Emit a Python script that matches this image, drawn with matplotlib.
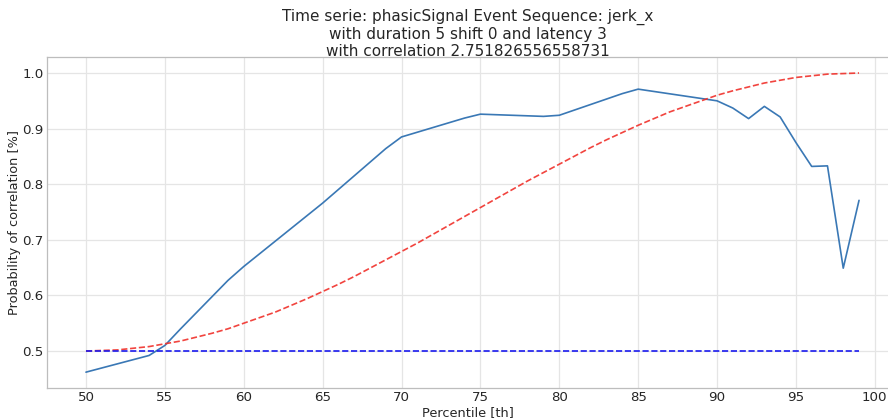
import matplotlib
matplotlib.use("Agg")
import matplotlib.pyplot as plt
import seaborn as sns

# Observed probability of correlation per percentile
percentiles = [50, 54, 55, 56, 57, 58, 59, 60, 65, 69, 70, 74, 75, 79, 80,
               84, 85, 90, 91, 92, 93, 94, 95, 96, 97, 98, 99]
probability = [0.462, 0.492, 0.510, 0.540, 0.569, 0.598, 0.627, 0.652, 0.766,
               0.864, 0.885, 0.919, 0.926, 0.922, 0.924, 0.963, 0.971, 0.950,
               0.937, 0.918, 0.940, 0.921, 0.875, 0.832, 0.833, 0.649, 0.771]

# Reference curve at every percentile from 50 to 99
ref_percentiles = list(range(50, 100))
ref_probability = [0.500, 0.501, 0.502, 0.505, 0.508, 0.513, 0.518, 0.525, 0.532, 0.540,
                   0.550, 0.560, 0.570, 0.582, 0.594, 0.607, 0.620, 0.634, 0.649, 0.664,
                   0.679, 0.694, 0.710, 0.726, 0.742, 0.758, 0.774, 0.790, 0.806, 0.821,
                   0.836, 0.851, 0.866, 0.880, 0.893, 0.906, 0.918, 0.930, 0.940, 0.950,
                   0.960, 0.968, 0.975, 0.982, 0.987, 0.992, 0.995, 0.998, 0.999, 1.000]

# Chance level
chance_x = [50, 99]
chance_y = [0.5, 0.5]

title_lines = ["Time serie: phasicSignal Event Sequence: jerk_x",
               "with duration 5 shift 0 and latency 3",
               "with correlation 2.751826556558731"]

sns.set_style("whitegrid")
plt.rcParams['font.family'] = ['DejaVu Sans']

fig = plt.figure(figsize=(8.88, 4.19), dpi=100)
ax = fig.add_axes([47 / 888, 31 / 419, 842 / 888, 331 / 419])

ax.plot(percentiles, probability, color='#3a78b5', linewidth=1.2)
ax.plot(ref_percentiles, ref_probability, color='#f0302a', linestyle='--', linewidth=1.2, alpha=0.9)
ax.plot(chance_x, chance_y, color='#1a1aee', linestyle='--', linewidth=1.2)

ax.set_xlim(47.53, 100.9)
ax.set_ylim(0.4335, 1.0288)
ax.set_xticks([50, 55, 60, 65, 70, 75, 80, 85, 90, 95, 100])
ax.set_yticks([0.5, 0.6, 0.7, 0.8, 0.9, 1.0])
ax.tick_params(labelsize=9.6, colors='0.15', length=0, pad=2.5)
ax.grid(color='#e5e5e5', linewidth=0.9)
for s in ax.spines.values():
    s.set_color('#bdbdbd')
    s.set_linewidth(0.9)

ax.set_xlabel("Percentile [th]", fontsize=9.3, labelpad=1)
ax.set_ylabel("Probability of correlation [%]", fontsize=9.3, labelpad=1)
ax.set_title("\n".join(title_lines), fontsize=11, pad=1, linespacing=1.15)

fig.savefig("out.png", dpi=100)
